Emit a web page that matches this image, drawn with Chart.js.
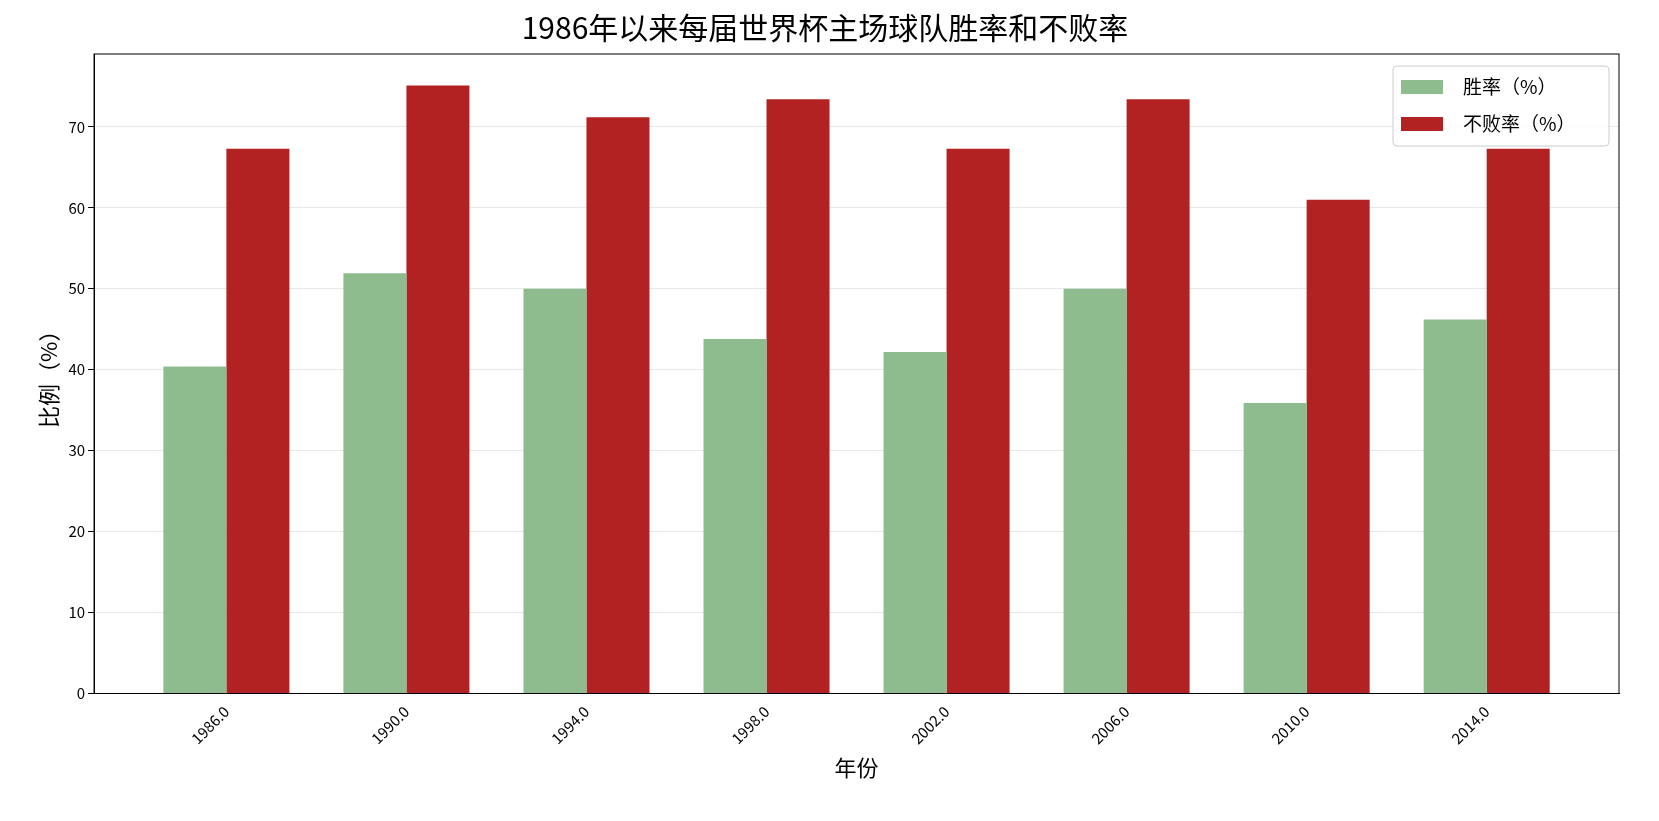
<!DOCTYPE html>
<html><head><meta charset="utf-8">
<script src="https://cdn.jsdelivr.net/npm/chart.js@4/dist/chart.umd.min.js"></script>
<style>body{margin:0;background:#fff}#wrap{width:1659px;height:821px}</style>
</head><body><div id="wrap"><canvas id="c"></canvas></div>
<script>
const years = ['1986.0', '1990.0', '1994.0', '1998.0', '2002.0', '2006.0', '2010.0', '2014.0'];
const winRate = [40.4, 51.9, 50.0, 43.8, 42.2, 50.0, 35.9, 46.2];
const unbeatenRate = [67.3, 75.1, 71.2, 73.4, 67.3, 73.4, 61.0, 67.3];
const yTicks = [0, 10, 20, 30, 40, 50, 60, 70];

const FONT = "'Noto Sans CJK SC', 'Noto Sans', sans-serif";

// frame + legend drawn inside the axes, like matplotlib
const framePlugin = {
  id: 'frame',
  afterDatasetsDraw(chart) {
    const { ctx, chartArea: a } = chart;
    ctx.save();
    ctx.strokeStyle = '#000';
    ctx.lineWidth = 1;
    ctx.strokeRect(a.left, a.top, a.right - a.left, a.bottom - a.top);
    const w = 216, h = 80, x = a.right - w - 10, y = a.top + 12;
    ctx.fillStyle = 'rgba(255,255,255,0.8)';
    ctx.strokeStyle = '#ccc';
    ctx.beginPath();
    ctx.roundRect(x, y, w, h, 4);
    ctx.fill(); ctx.stroke();
    ctx.font = '19px ' + FONT;
    ctx.textBaseline = 'middle';
    chart.data.datasets.forEach((ds, i) => {
      const cy = y + 21 + i * 37;
      ctx.fillStyle = ds.backgroundColor;
      ctx.fillRect(x + 8, cy - 7, 42, 14);
      ctx.fillStyle = '#000';
      ctx.fillText(ds.label, x + 70, cy);
    });
    ctx.restore();
  }
};

new Chart(document.getElementById('c'), {
  type: 'bar',
  data: {
    datasets: [
      { label: '胜率（%）', data: winRate.map((v, i) => ({ x: i, y: v })), backgroundColor: '#8fbc8f' },
      { label: '不败率（%）', data: unbeatenRate.map((v, i) => ({ x: i, y: v })), backgroundColor: '#b22222' }
    ]
  },
  options: {
    responsive: true,
    maintainAspectRatio: false,
    animation: false,
    categoryPercentage: 0.7,
    barPercentage: 1.0,
    layout: { padding: { left: 31, right: 40, top: 2, bottom: 36 } },
    plugins: {
      legend: { display: false },
      tooltip: { enabled: false },
      title: { display: true, text: '1986年以来每届世界杯主场球队胜率和不败率', color: '#000', font: { family: FONT, size: 30, weight: 'normal' }, padding: { top: 8, bottom: 8 } }
    },
    scales: {
      x: {
        type: 'linear', min: -0.735, max: 7.735, offset: false,
        afterBuildTicks(s) { s.ticks = years.map((_, i) => ({ value: i })); },
        ticks: { callback: (v) => years[v], color: '#000', minRotation: 45, maxRotation: 45, font: { family: FONT, size: 15 } },
        grid: { display: false, drawTicks: true, tickLength: 6 },
        border: { color: '#000' },
        title: { display: true, text: '年份', color: '#000', font: { family: FONT, size: 22 } }
      },
      y: {
        min: 0, max: 79,
        afterBuildTicks(s) { s.ticks = yTicks.map(v => ({ value: v })); },
        ticks: { color: '#000', font: { family: FONT, size: 15 } },
        grid: { color: 'rgba(0,0,0,0.09)', tickColor: '#000', tickLength: 6 },
        border: { color: '#000' },
        title: { display: true, text: '比例（%）', color: '#000', font: { family: FONT, size: 22 } }
      }
    }
  },
  plugins: [framePlugin]
});
</script></body></html>
